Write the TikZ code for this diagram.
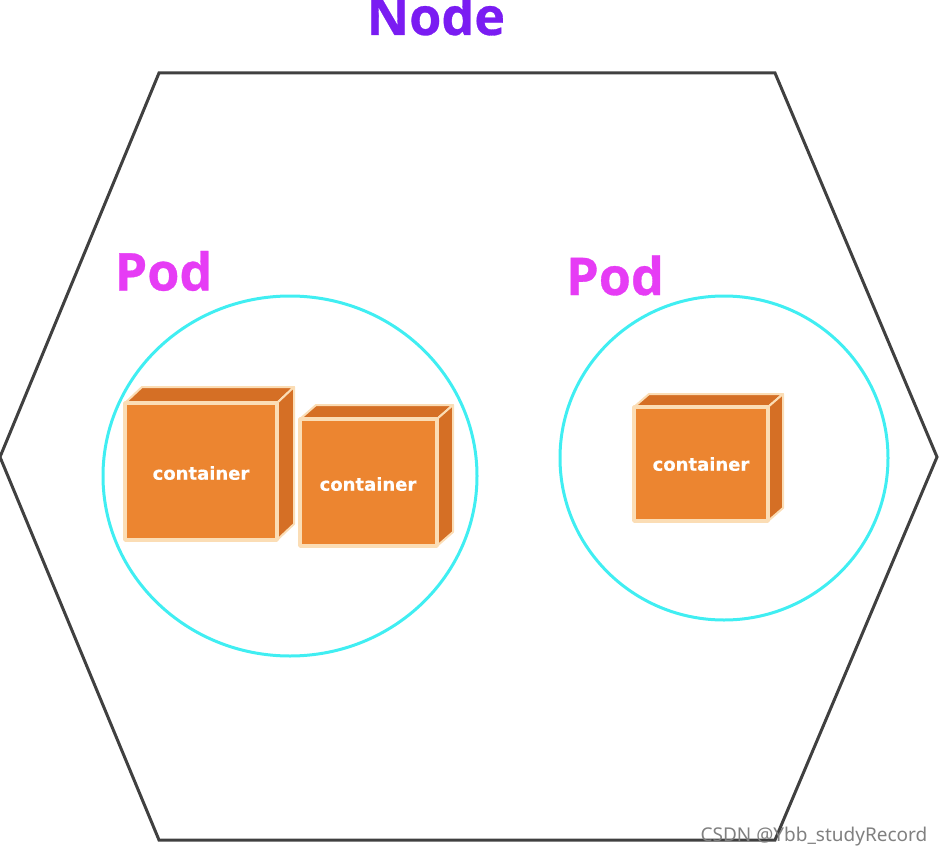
\documentclass[tikz,border=0pt]{standalone}
\usepackage{fontspec}
\setmainfont[BoldFeatures={FakeBold=0.6}]{Open Sans}
\newfontfamily\boxfont[BoldFeatures={FakeBold=0.4}]{DejaVu Sans}
\newfontfamily\markfont{Noto Sans}
\definecolor{hexline}{HTML}{404040}
\definecolor{podline}{HTML}{40EEF2}
\definecolor{front}{HTML}{EC8530}
\definecolor{dark}{HTML}{D56F25}
\definecolor{edgec}{HTML}{FBDDB5}
\definecolor{nodec}{HTML}{7A1CF2}
\definecolor{podc}{HTML}{E63CF5}
\tikzset{
  hexa/.style={draw=hexline,line width=3pt,line join=miter},
  podring/.style={draw=podline,line width=3pt},
  facefront/.style={fill=front,draw=edgec,line width=3.5pt,line join=round},
  faceside/.style={fill=dark,draw=edgec,line width=2pt,line join=round},
  contlabel/.style={text=white,font=\boxfont\bfseries\fontsize{18}{18}\selectfont,inner sep=0pt,anchor=center},
  biglabel/.style={font=\bfseries\fontsize{52}{52}\selectfont,inner sep=0pt,anchor=base},
  watermark/.style={text=black!50,font=\markfont\fontsize{19}{19}\selectfont,inner sep=0pt,anchor=base}
}
% #1 left, #2 right, #3 top, #4 bottom, #5 back x-offset, #6 back y-offset
\newcommand{\kcube}[6]{%
  \draw[faceside] (#1,#3) -- (#1+#5,#3-#6) -- (#2+#5,#3-#6) -- (#2,#3) -- cycle;
  \draw[faceside] (#2,#3) -- (#2+#5,#3-#6) -- (#2+#5,#4-#6) -- (#2,#4) -- cycle;
  \draw[facefront] (#1,#3) rectangle (#2,#4);
}
\begin{document}
\begin{tikzpicture}[x=1pt,y=-1pt]
\useasboundingbox (0,0) rectangle (942,856);
\draw[hexa] (159,73) -- (775,73) -- (937,457) -- (775,840) -- (159,840) -- (0,457) -- cycle;
\draw[podring] (290,476) ellipse [x radius=187,y radius=180];
\draw[podring] (724,458) ellipse [x radius=164,y radius=162];
\kcube{125}{277}{403}{540}{17}{16}
\kcube{300}{437}{419}{546}{16}{14}
\kcube{634}{768}{407}{521}{15}{13}
\node[contlabel] (c1) at (201,473) {container};
\node[contlabel] (c2) at (368,484) {container};
\node[contlabel] (c3) at (701,464) {container};
\node[biglabel,text=nodec] (nodetitle) at (436,35) {Node};
\node[biglabel,text=podc] (pod1) at (163.5,290.5) {Pod};
\node[biglabel,text=podc] (pod2) at (615,295) {Pod};
\node[watermark] (mark) at (814,841) {CSDN @Ybb\_studyRecord};
\end{tikzpicture}
\end{document}
